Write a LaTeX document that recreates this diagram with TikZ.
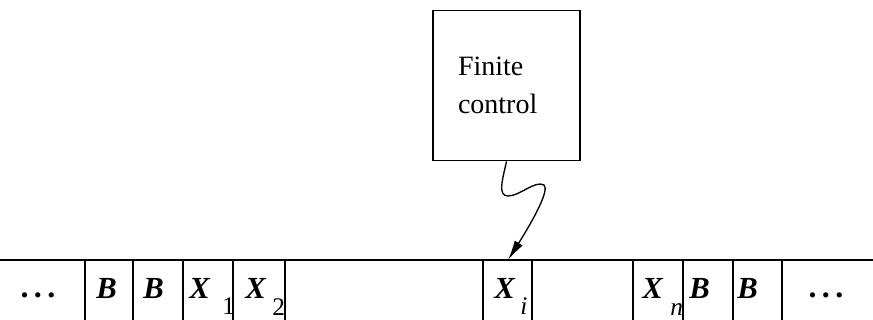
\documentclass[tikz,border=0pt]{standalone}
\usepackage{fontspec}
\setmainfont{Liberation Serif}
\usetikzlibrary{arrows.meta}
\begin{document}
\begin{tikzpicture}[x=0.75pt,y=-0.75pt,
  tape/.style={line width=1.3pt},
  lbl/.style={inner sep=0pt,anchor=base west,font=\fontsize{23}{26}\selectfont\bfseries\itshape},
  sub/.style={inner sep=0pt,anchor=base west,font=\fontsize{19}{22}\selectfont},
  dots/.style={inner sep=0pt,anchor=base,font=\fontsize{24}{26}\selectfont\bfseries},
  ctrl/.style={draw,line width=1.3pt,minimum width=110.25pt,minimum height=112.5pt,text width=72.75pt,align=left,inner sep=0pt,font=\fontsize{21}{29}\selectfont}]
\useasboundingbox (0,0) rectangle (873,320);
% finite control box
\node[ctrl] (fc) at (506.5,85.5) {Finite\\control};
% tape top line
\coordinate (tl) at (0,260);
\coordinate (tr) at (873,260);
\draw[tape] (tl) -- (tr);
% cell boundaries
\foreach \x/\n in {85/a,133/b,183/c,233/d,285/e,483/f,532/g,633/h,683/k,733/m,782/p}{
  \coordinate (t\n) at (\x,260);
  \coordinate (b\n) at (\x,320);
  \draw[tape] (t\n) -- (b\n);
}
% head position
\coordinate (xi) at (508,260);
% labels
\node[dots] (d1) at (38,297) {.\,.\,.};
\node[lbl] (B1) at (96,298) {B};
\node[lbl] (B2) at (143,298) {B};
\node[lbl] (X1) at (189,298) {X};
\node[sub] (s1) at (222,314) {1};
\node[lbl] (X2) at (245,298) {X};
\node[sub] (s2) at (272,315) {2};
\node[lbl] (Xi) at (494,298) {X};
\node[sub,font=\fontsize{19}{22}\selectfont\itshape] (si) at (520,314) {i};
\node[lbl] (Xn) at (642,298) {X};
\node[sub,font=\fontsize{19}{22}\selectfont\itshape] (sn) at (670,315) {n};
\node[lbl] (B3) at (689,298) {B};
\node[lbl] (B4) at (737,298) {B};
\node[dots] (d2) at (826,297) {.\,.\,.};
% head connector
\draw[line width=1pt,-{Latex[length=15pt,width=7pt]}]
  (fc.south) .. controls (503,178) and (497,196) .. (508,196)
  .. controls (520,196) and (535,180) .. (544,185)
  .. controls (550,190) and (532,222) .. (xi);
\end{tikzpicture}
\end{document}
